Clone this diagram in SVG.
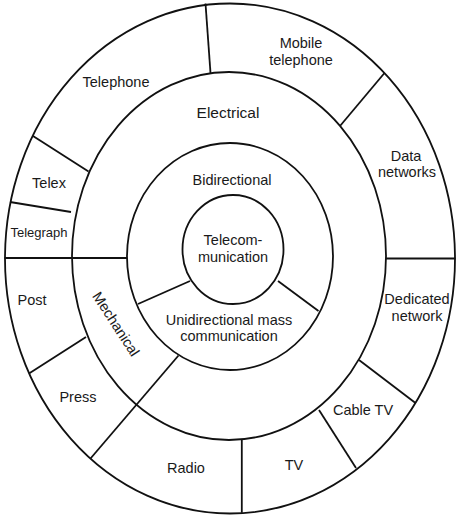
<svg xmlns="http://www.w3.org/2000/svg" width="463" height="518" viewBox="0 0 463 518">
<style>
.ring{fill:none;stroke:#111;stroke-width:1.8}
.div{stroke:#111;stroke-width:1.8;fill:none}
.t{font-family:"Liberation Sans",Arial,sans-serif;font-size:14.5px;fill:#1a1a1a;text-anchor:middle}
.s{font-size:13px}
.l{font-size:15.5px}
</style>
<rect width="463" height="518" fill="#ffffff"/>
<g id="rings">
<ellipse class="ring" cx="230" cy="258.5" rx="225" ry="255" fill="#fff"/>
<ellipse class="ring" cx="229" cy="256" rx="157" ry="184"/>
<ellipse class="ring" cx="230" cy="256.5" rx="103" ry="113.5"/>
<ellipse class="ring" cx="233" cy="249.5" rx="50.5" ry="54.5"/>
</g>
<g id="connectors">
<line class="div" x1="205.5" y1="3.5" x2="210.5" y2="73"/>
<line class="div" x1="384.5" y1="73" x2="340" y2="126"/>
<line class="div" x1="33" y1="136" x2="88.5" y2="171.5"/>
<line class="div" x1="10" y1="202" x2="71" y2="212"/>
<line class="div" x1="4.5" y1="258" x2="127" y2="258"/>
<line class="div" x1="386" y1="258.5" x2="455.5" y2="258.5"/>
<line class="div" x1="29" y1="373.5" x2="86" y2="337"/>
<line class="div" x1="138" y1="304" x2="190" y2="281"/>
<line class="div" x1="278" y1="281" x2="318.5" y2="311"/>
<line class="div" x1="178.5" y1="355.5" x2="90.5" y2="458.5"/>
<line class="div" x1="241.8" y1="440" x2="241.8" y2="512.8"/>
<line class="div" x1="319" y1="410" x2="356" y2="468"/>
<line class="div" x1="359" y1="360" x2="415.5" y2="403"/>
</g>
<g id="telecommunication"><text class="t" x="233" y="245">Telecom-</text><text class="t" x="233" y="262">munication</text></g>
<g id="bidirectional"><text class="t" x="232" y="185">Bidirectional</text></g>
<g id="unidirectional"><text class="t" x="229" y="325">Unidirectional mass</text><text class="t" x="229" y="341">communication</text></g>
<g id="electrical"><text class="t l" x="228" y="118">Electrical</text></g>
<g id="mechanical"><text class="t" transform="translate(116,324) rotate(57)" x="0" y="5">Mechanical</text></g>
<g id="telephone"><text class="t" x="116" y="87">Telephone</text></g>
<g id="mobile-telephone"><text class="t" x="301" y="48">Mobile</text><text class="t" x="301" y="65">telephone</text></g>
<g id="data-networks"><text class="t" x="406" y="161">Data</text><text class="t" x="407" y="177">networks</text></g>
<g id="telex"><text class="t" x="49" y="188">Telex</text></g>
<g id="telegraph"><text class="t s" x="39" y="237">Telegraph</text></g>
<g id="post"><text class="t" x="32" y="305">Post</text></g>
<g id="press"><text class="t" x="78" y="402">Press</text></g>
<g id="radio"><text class="t" x="186" y="473">Radio</text></g>
<g id="tv"><text class="t" x="294" y="470">TV</text></g>
<g id="cable-tv"><text class="t" x="363" y="415">Cable TV</text></g>
<g id="dedicated-network"><text class="t" x="417" y="304">Dedicated</text><text class="t" x="417" y="321">network</text></g>
</svg>
